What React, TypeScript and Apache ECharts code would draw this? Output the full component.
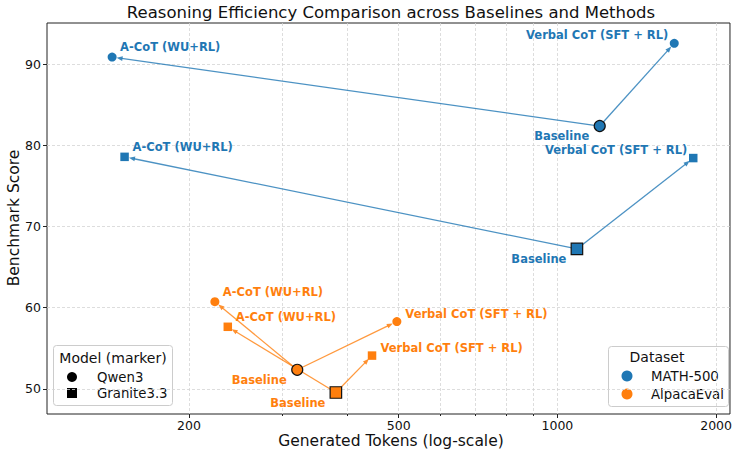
import React, { useEffect, useRef } from "react";
import * as echarts from "echarts";

// ---- Data ----
const methods = ["Baseline", "A-CoT (WU+RL)", "Verbal CoT (SFT + RL)"];
const mathQwenTokens = [1203, 143, 1666];
const mathQwenScores = [82.4, 90.9, 92.6];
const mathGraniteTokens = [1089, 151, 1810];
const mathGraniteScores = [67.25, 78.6, 78.45];
const alpacaQwenTokens = [321, 224, 496];
const alpacaQwenScores = [52.35, 60.75, 58.3];
const alpacaGraniteTokens = [380, 237, 445];
const alpacaGraniteScores = [49.55, 57.65, 54.1];

const xMajorTicks = [200, 500, 1000, 2000];
const xMinorTicks = [300, 400, 600, 700, 800, 900];
const yTicks = [50, 60, 70, 80, 90];

const BLUE = "#1f77b4";
const ORANGE = "#ff7f0e";
const FONT = "DejaVu Sans";

// label layout per method: [dx, dy, align]
const labelLayoutMath: [number, number, string][] = [
  [-10.5, 10, "right"],
  [8, -10, "left"],
  [-6, -8, "right"],
];
const labelLayoutAlpaca: [number, number, string][] = [
  [-10.5, 10, "right"],
  [8, -10, "left"],
  [8.5, -7.5, "left"],
];

const lg = (v: number) => Math.log10(v);

function scatterSeries(
  tokens: number[],
  scores: number[],
  color: string,
  shape: "circle" | "rect",
  layout: [number, number, string][]
) {
  return {
    type: "scatter",
    xAxisIndex: 0,
    yAxisIndex: 0,
    z: 5,
    data: tokens.map((t, i) => {
      const isBase = i === 0;
      const size = shape === "circle" ? (isBase ? 11 : 9) : isBase ? 11.5 : 8.5;
      return {
        name: methods[i],
        value: [lg(t), scores[i]],
        symbol: shape,
        symbolSize: size,
        itemStyle: {
          color,
          opacity: 1,
          borderColor: isBase ? "#111" : color,
          borderWidth: isBase ? 1.2 : 0,
        },
        label: {
          show: true,
          position: "inside",
          offset: [layout[i][0], layout[i][1]],
          align: layout[i][2],
          verticalAlign: "middle",
          color,
          fontWeight: "bold",
          fontSize: 11.5,
          fontFamily: FONT,
          formatter: methods[i],
        },
      };
    }),
  };
}

function arrowRows(tokens: number[], scores: number[]) {
  return [1, 2].map((i) => [lg(tokens[0]), scores[0], lg(tokens[i]), scores[i]]);
}

function arrowSeries(rows: number[][], color: string) {
  return {
    type: "custom",
    xAxisIndex: 0,
    yAxisIndex: 0,
    z: 3,
    encode: { x: [0, 2], y: [1, 3] },
    data: rows,
    renderItem: (params: any, api: any) => {
      const p1 = api.coord([api.value(0), api.value(1)]);
      const p2 = api.coord([api.value(2), api.value(3)]);
      const dx = p2[0] - p1[0];
      const dy = p2[1] - p1[1];
      const len = Math.hypot(dx, dy) || 1;
      const ux = dx / len;
      const uy = dy / len;
      const shrink = 4.5;
      const end = [p2[0] - ux * shrink, p2[1] - uy * shrink];
      const head = 6;
      const hw = 2.4;
      const base = [end[0] - ux * head, end[1] - uy * head];
      const left = [base[0] - uy * hw, base[1] + ux * hw];
      const right = [base[0] + uy * hw, base[1] - ux * hw];
      return {
        type: "group",
        children: [
          {
            type: "line",
            shape: { x1: p1[0], y1: p1[1], x2: base[0] + ux * 1, y2: base[1] + uy * 1 },
            style: { stroke: color, lineWidth: 1.3, opacity: 0.8 },
          },
          {
            type: "polygon",
            shape: { points: [end, left, right] },
            style: { fill: color, opacity: 0.85 },
          },
        ],
      };
    },
  };
}

const gridLine = { show: true, lineStyle: { color: "#d4d4d4", width: 0.8, type: [3, 2] } };

export default function App() {
  const ref = useRef<HTMLDivElement>(null);
  useEffect(() => {
    if (!ref.current) return;
    const chart = echarts.init(ref.current, undefined, { renderer: "svg" });
    const xmin = lg(107.6);
    const xmax = lg(2125);
    const option: any = {
      animation: false,
      textStyle: { fontFamily: FONT },
      grid: {
        left: 47,
        right: 1,
        top: 23,
        bottom: 36,
        show: true,
        borderColor: "#222",
        borderWidth: 1,
        backgroundColor: "transparent",
      },
      xAxis: [
        {
          type: "value",
          min: xmin,
          max: xmax,
          axisLine: { show: false },
          axisTick: { show: true, length: 4, customValues: xMajorTicks.map(lg), lineStyle: { color: "#222" } },
          axisLabel: {
            show: true,
            customValues: xMajorTicks.map(lg),
            formatter: (v: number) => String(Math.round(Math.pow(10, v))),
            color: "#111",
            fontSize: 12.5,
            margin: 5,
          },
          splitLine: gridLine,
        },
        {
          type: "value",
          min: xmin,
          max: xmax,
          position: "bottom",
          axisLine: { show: false },
          axisTick: { show: true, length: 2, customValues: xMinorTicks.map(lg), lineStyle: { color: "#222" } },
          axisLabel: { show: false, customValues: xMinorTicks.map(lg) },
          splitLine: gridLine,
        },
      ],
      yAxis: {
        type: "value",
        min: 46.9,
        max: 95.1,
        axisLine: { show: false },
        axisTick: { show: true, length: 4, customValues: yTicks, lineStyle: { color: "#222" } },
        axisLabel: { show: true, customValues: yTicks, color: "#111", fontSize: 12.5, margin: 6 },
        splitLine: gridLine,
      },
      series: [
        arrowSeries(arrowRows(mathQwenTokens, mathQwenScores), BLUE),
        arrowSeries(arrowRows(mathGraniteTokens, mathGraniteScores), BLUE),
        arrowSeries(arrowRows(alpacaQwenTokens, alpacaQwenScores), ORANGE),
        arrowSeries(arrowRows(alpacaGraniteTokens, alpacaGraniteScores), ORANGE),
        scatterSeries(mathQwenTokens, mathQwenScores, BLUE, "circle", labelLayoutMath),
        scatterSeries(mathGraniteTokens, mathGraniteScores, BLUE, "rect", labelLayoutMath),
        scatterSeries(alpacaQwenTokens, alpacaQwenScores, ORANGE, "circle", labelLayoutAlpaca),
        scatterSeries(alpacaGraniteTokens, alpacaGraniteScores, ORANGE, "rect", labelLayoutAlpaca),
      ],
      graphic: [
        {
          type: "text",
          x: 391,
          y: 12,
          style: {
            text: "Reasoning Efficiency Comparison across Baselines and Methods",
            fill: "#111",
            font: `16.5px '${FONT}'`,
            align: "center",
            verticalAlign: "middle",
          },
        },
        {
          type: "text",
          x: 391,
          y: 441,
          style: {
            text: "Generated Tokens (log-scale)",
            fill: "#111",
            font: `15.5px '${FONT}'`,
            align: "center",
            verticalAlign: "middle",
          },
        },
        {
          type: "text",
          x: 14,
          y: 218,
          rotation: Math.PI / 2,
          style: {
            text: "Benchmark Score",
            fill: "#111",
            font: `15.5px '${FONT}'`,
            align: "center",
            verticalAlign: "middle",
          },
        },
        // Left legend: Model (marker)
        {
          type: "group",
          z: 100,
          children: [
            {
              type: "rect",
              shape: { x: 53.5, y: 345.5, width: 119, height: 60, r: 3 },
              style: { fill: "rgba(255,255,255,0.85)", stroke: "#cccccc", lineWidth: 1 },
            },
            {
              type: "text",
              x: 113,
              y: 358,
              style: { text: "Model (marker)", fill: "#111", font: `14px '${FONT}'`, align: "center", verticalAlign: "middle" },
            },
            { type: "circle", shape: { cx: 72, cy: 377, r: 5 }, style: { fill: "#000" } },
            {
              type: "text",
              x: 97,
              y: 377,
              style: { text: "Qwen3", fill: "#111", font: `13.3px '${FONT}'`, align: "left", verticalAlign: "middle" },
            },
            { type: "rect", shape: { x: 67, y: 388, width: 10, height: 10 }, style: { fill: "#000" } },
            {
              type: "text",
              x: 97,
              y: 393,
              style: { text: "Granite3.3", fill: "#111", font: `13.3px '${FONT}'`, align: "left", verticalAlign: "middle" },
            },
          ],
        },
        // Right legend: Dataset
        {
          type: "group",
          z: 100,
          children: [
            {
              type: "rect",
              shape: { x: 608.5, y: 346.5, width: 120, height: 60, r: 3 },
              style: { fill: "rgba(255,255,255,0.85)", stroke: "#cccccc", lineWidth: 1 },
            },
            {
              type: "text",
              x: 657,
              y: 357,
              style: { text: "Dataset", fill: "#111", font: `14px '${FONT}'`, align: "center", verticalAlign: "middle" },
            },
            { type: "circle", shape: { cx: 627, cy: 376, r: 5.5 }, style: { fill: BLUE } },
            {
              type: "text",
              x: 651,
              y: 376,
              style: { text: "MATH-500", fill: "#111", font: `13.3px '${FONT}'`, align: "left", verticalAlign: "middle" },
            },
            { type: "circle", shape: { cx: 627, cy: 394, r: 5.5 }, style: { fill: ORANGE } },
            {
              type: "text",
              x: 651,
              y: 394,
              style: { text: "AlpacaEval", fill: "#111", font: `13.3px '${FONT}'`, align: "left", verticalAlign: "middle" },
            },
          ],
        },
      ],
    };
    chart.setOption(option);
    return () => chart.dispose();
  }, []);
  return <div ref={ref} style={{ width: 735, height: 450, position: "absolute", left: 0, top: 0 }} />;
}
